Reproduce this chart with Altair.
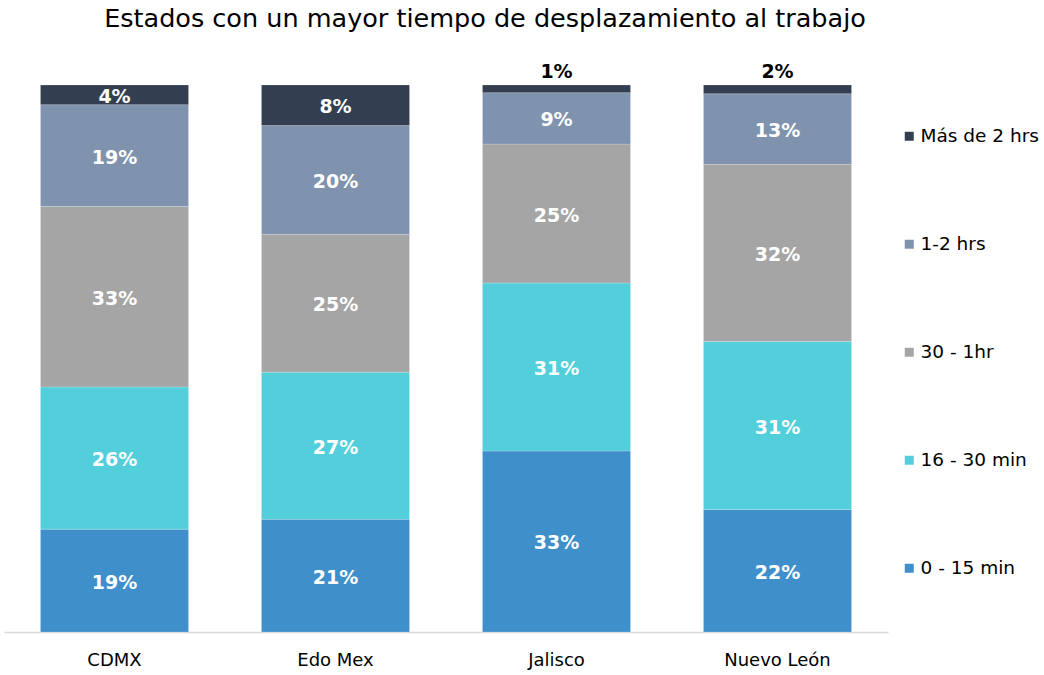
import altair as alt
import pandas as pd

states = ["CDMX", "Edo Mex", "Jalisco", "Nuevo León"]
categories = ["0 - 15 min", "16 - 30 min", "30 - 1hr", "1-2 hrs", "Más de 2 hrs"]
colors = ["#3F8FCB", "#52CFDB", "#A5A5A5", "#7F93AE", "#333F50"]

# segment shares (%)
v_0_15 = [18.8, 20.6, 33.1, 22.4]
v_16_30 = [26.0, 26.9, 30.7, 30.7]
v_30_1h = [33.0, 25.2, 25.4, 32.4]
v_1_2h = [18.6, 19.9, 9.4, 12.9]
v_2h = [3.6, 7.4, 1.4, 1.6]
series = [v_0_15, v_16_30, v_30_1h, v_1_2h, v_2h]

# data labels as printed
l_0_15 = [19, 21, 33, 22]
l_16_30 = [26, 27, 31, 31]
l_30_1h = [33, 25, 25, 32]
l_1_2h = [19, 20, 9, 13]
l_2h = [4, 8, 1, 2]
labels = [l_0_15, l_16_30, l_30_1h, l_1_2h, l_2h]

rows = []
for ci, (cat, vals, labs) in enumerate(zip(categories, series, labels)):
    for s, v, lb in zip(states, vals, labs):
        rows.append({"state": s, "cat": cat, "idx": ci, "value": v, "lab": f"{lb}%", "small": lb < 3})
df = pd.DataFrame(rows)

legend_order = categories[::-1]
legend_colors = colors[::-1]

base = alt.Chart(df).transform_stack(
    stack="value", groupby=["state"], as_=["y0", "y1"],
    sort=[alt.SortField("idx", order="ascending")], offset="normalize"
).transform_calculate(mid="(datum.y0 + datum.y1) / 2")

x_enc = alt.X("state:N", sort=states, title=None,
              scale=alt.Scale(paddingInner=0.33, paddingOuter=0.165),
              axis=alt.Axis(labelAngle=0, labelFontSize=18, labelColor="#000000",
                            labelFont="DejaVu Sans", ticks=False, domainColor="#D9D9D9",
                            domainWidth=1.5, labelPadding=19))
y_scale = alt.Scale(domain=[0, 1])

bars = base.mark_bar(stroke="#FFFFFF", strokeWidth=0.4, strokeOpacity=0.5).encode(
    x=x_enc,
    y=alt.Y("y0:Q", scale=y_scale, axis=None),
    y2="y1:Q",
    color=alt.Color("cat:N", scale=alt.Scale(domain=legend_order, range=legend_colors),
                    legend=alt.Legend(title=None, orient="none", legendX=896, legendY=42,
                                      symbolType="square", symbolSize=81, labelFontSize=18.5,
                                      labelFont="DejaVu Sans", labelColor="#000000",
                                      rowPadding=89, labelOffset=2, symbolStrokeWidth=0)),
)

inside = base.transform_filter("!datum.small").mark_text(
    color="white", fontWeight="bold", fontSize=19, font="DejaVu Sans", baseline="middle", dy=2
).encode(
    x=alt.X("state:N", sort=states),
    y=alt.Y("mid:Q", scale=y_scale),
    text="lab:N",
)

above = base.transform_filter("datum.small").mark_text(
    color="black", fontWeight="bold", fontSize=19, font="DejaVu Sans", baseline="middle", dy=-13
).encode(
    x=alt.X("state:N", sort=states),
    y=alt.Y("y1:Q", scale=y_scale),
    text="lab:N",
)

chart = alt.layer(bars, inside, above).properties(
    width=884, height=547,
    title=alt.TitleParams("Estados con un mayor tiempo de desplazamiento al trabajo",
                          fontSize=25.5, font="DejaVu Sans", fontWeight="normal",
                          color="#000000", anchor="middle", dx=39, offset=31),
    autosize=alt.AutoSizeParams(type="none"),
    padding={"left": 4, "top": 85, "right": 156, "bottom": 43},
).configure(background="white").configure_view(strokeWidth=0, stroke=None)

chart.save("out.html", embed_options={"renderer": "svg", "actions": False})
